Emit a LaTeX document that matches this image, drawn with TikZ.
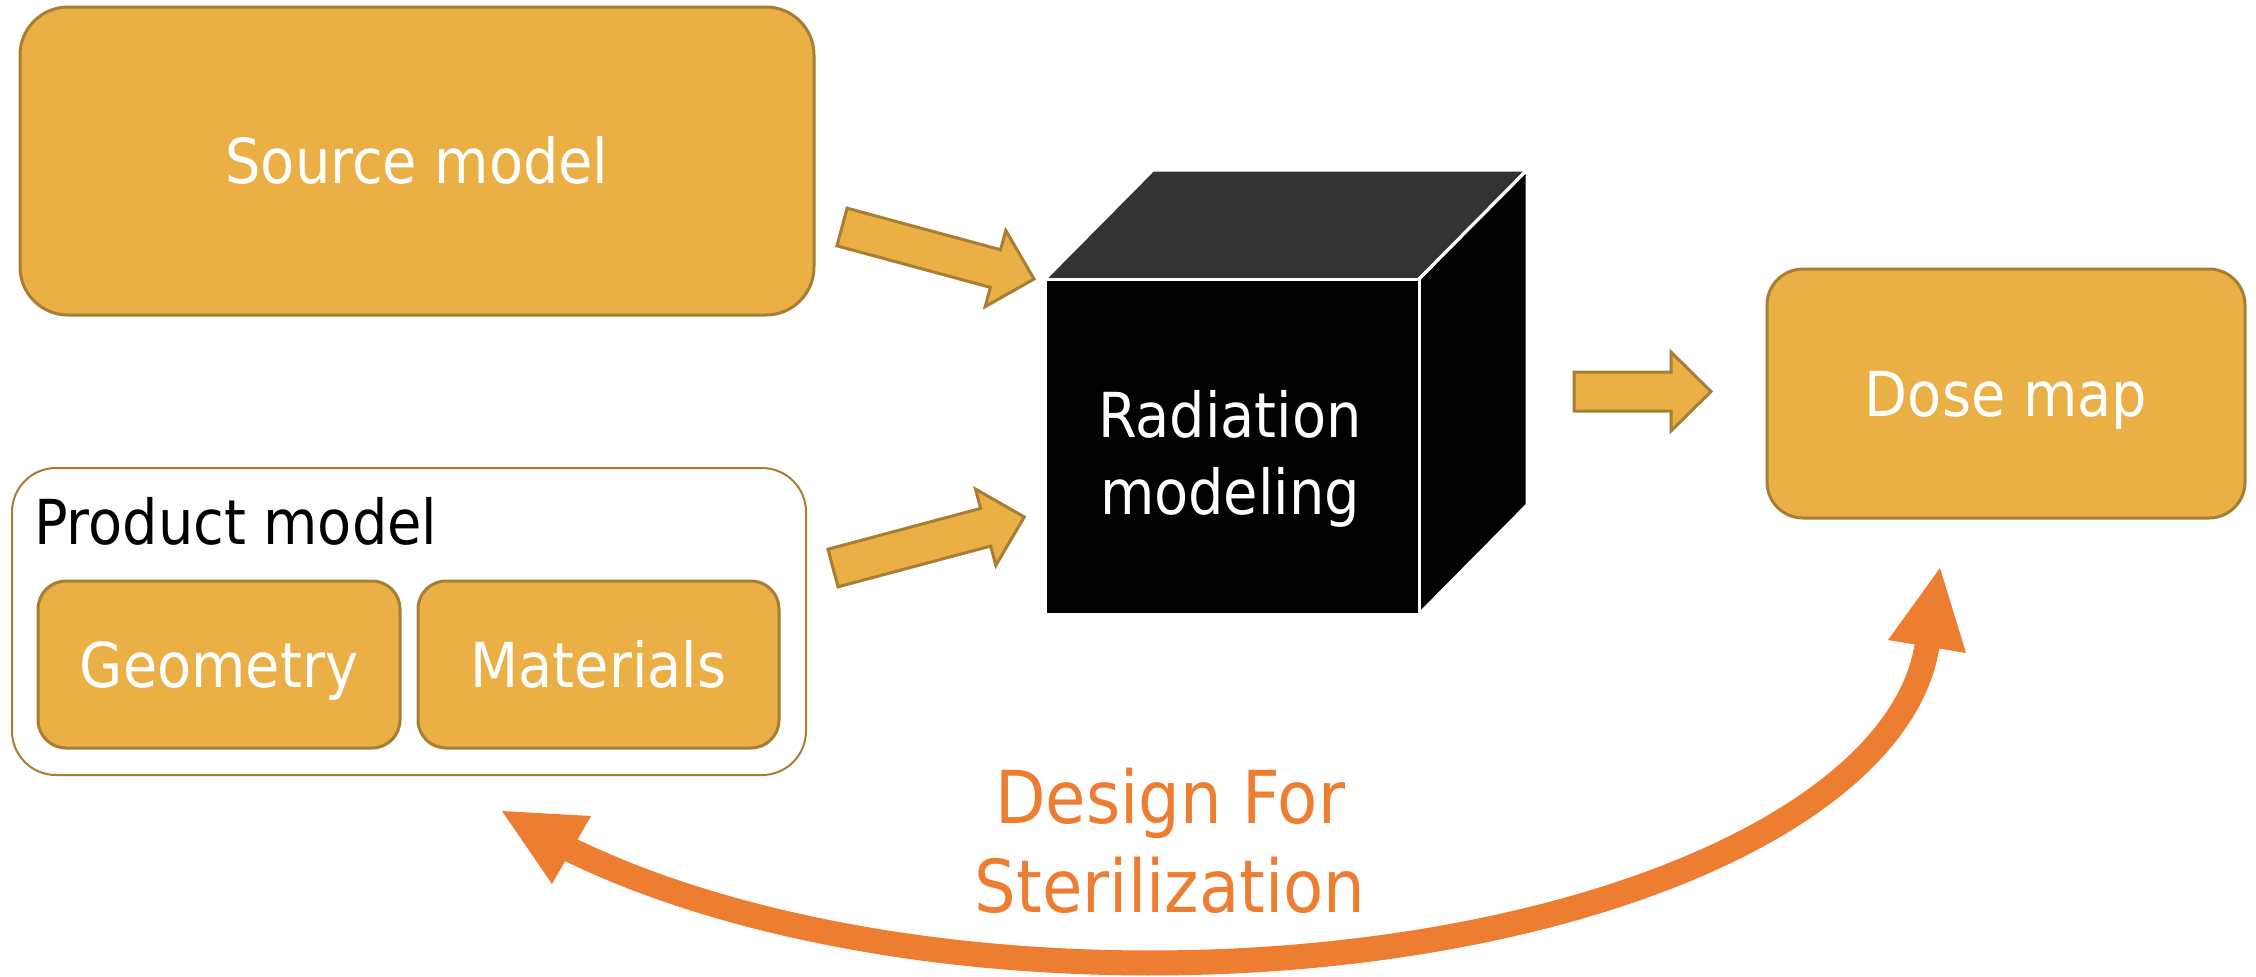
\documentclass[tikz,border=0pt]{standalone}
\usepackage{fontspec}
\setmainfont{DejaVu Sans Condensed}
\usetikzlibrary{arrows.meta}
\definecolor{gold}{HTML}{EAAF45}
\definecolor{golddark}{HTML}{A87D34}
\definecolor{orangec}{HTML}{ED7D31}
\definecolor{cubetop}{HTML}{333333}
\newcommand\blkarrow[4]{%
  \draw[barrow, shift={(#1,#2)}, rotate=#3]
    (0,-19.5) -- ({#4-40},-19.5) -- ({#4-40},-39.5) -- (#4,0)
    -- ({#4-40},39.5) -- ({#4-40},19.5) -- (0,19.5) -- cycle;}
\begin{document}
\begin{tikzpicture}[x=0.5pt,y=-0.5pt,
  mainfont/.style={font=\fontsize{31}{38.5}\selectfont},
  goldbox/.style={rectangle, fill=gold, draw=golddark, line width=1.5pt,
    text=white, mainfont, text height=22.6pt, text depth=0pt, inner sep=0pt},
  barrow/.style={fill=gold, draw=golddark, line width=1.5pt, line join=miter},
  cubeface/.style={draw=white, line width=1.5pt, line join=miter},
  curve/.style={draw=orangec, line width=12.5pt, line join=round}]
\useasboundingbox (0,0) rectangle (2256,976);

% Source model
\node[goldbox, rounded corners=24pt, minimum width=397pt, minimum height=154pt]
  (source) at (417,161) {Source model};

% Product model group
\node[rectangle, fill=white, draw=golddark, line width=1pt, rounded corners=22pt,
  minimum width=397pt, minimum height=153.5pt] (product) at (409,621.5) {};
\node[anchor=base west, inner sep=0pt, mainfont, text=black] (pmlabel) at (34,544) {Product model};
\node[goldbox, rounded corners=14pt, minimum width=181pt, minimum height=83.5pt]
  (geometry) at (219,664.5) {Geometry};
\node[goldbox, rounded corners=14pt, minimum width=180.5pt, minimum height=83.5pt]
  (materials) at (598.5,664.5) {Materials};

% Cube
\fill[cubetop] (1045,279) -- (1153,170) -- (1527,170) -- (1419,279) -- cycle;
\draw[cubeface, fill=black] (1419,279) -- (1527,170) -- (1527,505) -- (1419,614) -- cycle;
\draw[cubeface] (1045,279) -- (1153,170) -- (1527,170) -- (1419,279);
\node[rectangle, fill=black, draw=white, line width=1.5pt, minimum width=187pt,
  minimum height=167.5pt, inner sep=0pt] (cube) at (1232,446.5) {};
\node[mainfont, text=white, align=center] (radtext) at (1230,458.5) {Radiation\\modeling};

% Dose map
\node[goldbox, rounded corners=18pt, minimum width=239pt, minimum height=124.5pt]
  (dose) at (2006,393.5) {Dose map};

% Block arrows
\blkarrow{842}{227}{-15.15}{199}
\blkarrow{833}{568}{14.95}{198}
\blkarrow{1574}{391.5}{0}{137}

% Curved feedback arrow
\draw[curve] plot[domain=3:139, samples=90] ({1150+779*cos(\x)},{622+341*sin(\x)});
\fill[orangec] (1940,568) -- (1888,640) -- (1966,653) -- cycle;
\fill[orangec] (502,811) -- (591,816) -- (552,884) -- cycle;

\node[font=\fontsize{36.5}{44.5}\selectfont, text=orangec, align=center]
  (dfs) at (1170,841) {Design For\\Sterilization};
\end{tikzpicture}
\end{document}
